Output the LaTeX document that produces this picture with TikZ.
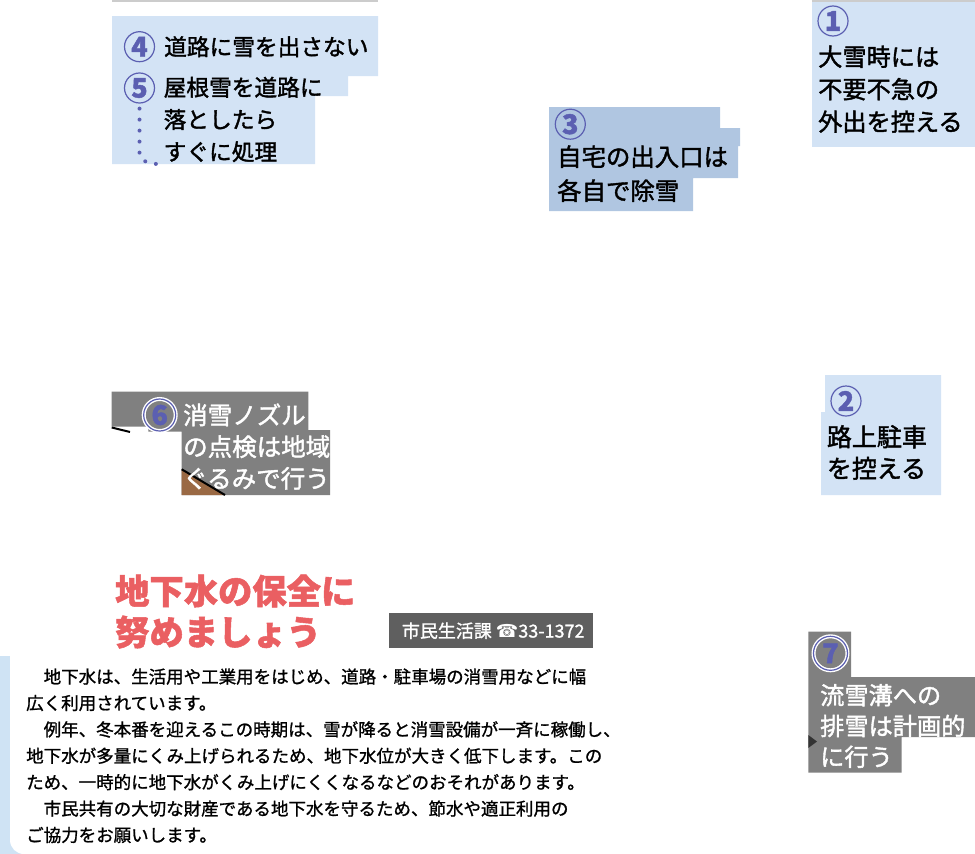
\documentclass[tikz,border=0pt]{standalone}
\usepackage{fontspec}
\setmainfont{Noto Sans CJK JP}
\newfontfamily\medjp[FakeBold=1.6]{Noto Sans CJK JP}
\newfontfamily\bodyjp[FakeBold=1.1]{Noto Sans CJK JP}
\newfontfamily\titlejp[BoldFeatures={FakeBold=1.5}]{Noto Sans CJK JP}
\newfontfamily\telsym{DejaVu Sans}
\definecolor{paleblue}{HTML}{D3E3F5}
\definecolor{midblue}{HTML}{B0C6E1}
\definecolor{boxgray}{HTML}{808080}
\definecolor{telgray}{HTML}{5F5F5F}
\definecolor{numblue}{HTML}{5B5FB1}
\definecolor{titlered}{HTML}{EA5F62}
\definecolor{roofbrown}{HTML}{9A6944}
\definecolor{edgegray}{HTML}{CCCCCC}
\definecolor{snowblue}{HTML}{CFE3F4}
\begin{document}
\begin{tikzpicture}[x=1pt, y=-1pt,
  callout/.style={inner sep=0pt, anchor=west, align=left, text=black},
  calloutw/.style={callout, text=white},
  numcirc/.style={circle, draw=numblue, line width=1.2pt, minimum size=30pt, inner sep=0pt,
    text=numblue, font=\titlejp\fontsize{27}{27}\selectfont\bfseries},
  numcircw/.style={numcirc, preaction={draw=white, line width=4pt}},
  leader/.style={numblue, line width=4pt, line cap=round, dash pattern=on 0pt off 11pt}]
      \useasboundingbox (0,0) rectangle (975,854);
      \fill[snowblue] (0,656) rectangle (30,854);
      \fill[white, rounded corners=14pt] (10,640) rectangle (975,854);
      \fill[paleblue] (112,16) -- (378,16) -- (378,76) -- (348,76) -- (348,96) -- (315,96) -- (315,164) -- (112,164) -- cycle;
      \fill[midblue] (549,107) -- (720,107) -- (720,128) -- (740,128) -- (740,146) -- (738,146) -- (738,178) -- (693,178) -- (693,211) -- (549,211) -- cycle;
      \fill[paleblue] (811.7,0) rectangle (975,146.7);
      \draw[edgegray, line width=1.5pt] (112,0.75) -- (378,0.75);
      \draw[edgegray, line width=1.5pt] (811.7,0.75) -- (975,0.75);
      \fill[paleblue] (825,375) -- (941,375) -- (941,495) -- (821,495) -- (821,412) -- (825,412) -- cycle;
      \fill[boxgray] (111.7,391.7) -- (308.3,391.7) -- (308.3,430) -- (330,430) -- (330,495) -- (181.7,495) -- (181.7,431.7) -- (148.3,431.7) -- (148.3,426.7) -- (111.7,426.7) -- cycle;
      \fill[roofbrown] (181.7,469.3) -- (225,495) -- (181.7,495) -- cycle;
      \draw[black, line width=2pt] (181.7,469.3) -- (225,495);
      \draw[black, line width=2pt] (111.7,427.5) -- (130,432);
      \fill[boxgray] (808.3,631.7) -- (851,631.7) -- (851,677) -- (975,677) -- (975,737) -- (901.7,737) -- (901.7,772.7) -- (808.3,772.7) -- cycle;
      \fill[black!80] (808.3,735) -- (817,741.5) -- (808.3,748) -- cycle;
      \fill[telgray] (389,613) rectangle (593,648);
      \node[numcirc] (n1) at (833,21) {1};
      \node[callout, font=\medjp\fontsize{24.2}{32.5}\selectfont] (t1) at (818,89.2) {大雪時には\\不要不急の\\外出を控える};
      \node[numcirc] (n2) at (846,401) {2};
      \node[callout, font=\medjp\fontsize{25}{31.6}\selectfont] (t2) at (826.7,452.5) {路上駐車\\を控える};
      \node[numcirc] (n3) at (570.3,124.2) {3};
      \node[callout, font=\medjp\fontsize{24.4}{34}\selectfont] (t3) at (557,173.7) {自宅の出入口は\\各自で除雪};
      \node[numcirc] (n4) at (139.5,46.7) {4};
      \node[callout, font=\medjp\fontsize{22.7}{22.7}\selectfont] (t4) at (164,46.7) {道路に雪を出さない};
      \node[numcirc] (n5) at (139.5,88) {5};
      \node[callout, font=\medjp\fontsize{22.7}{32.2}\selectfont] (t5) at (163.5,119.5) {屋根雪を道路に\\落としたら\\すぐに処理};
      \coordinate (dotend) at (158,164);
      \draw[leader] ([yshift=-5pt]n5.south) -- ++(0,44) to[out=-90, in=180] (dotend);
      \node[numcircw, minimum size=32pt] (n6) at (159.7,415) {6};
      \node[calloutw, font=\medjp\fontsize{24.5}{31.7}\selectfont] (t6) at (183,446.6) {消雪ノズル\\の点検は地域\\ぐるみで行う};
      \node[numcircw, minimum size=34pt] (n7) at (830.5,653.3) {7};
      \node[calloutw, font=\medjp\fontsize{24.2}{30.8}\selectfont] (t7) at (820,726) {流雪溝への\\排雪は計画的\\に行う};
      \node[callout, text=titlered, font=\titlejp\fontsize{34.3}{41}\selectfont\bfseries] (title) at (115,611.5) {地下水の保全に\\努めましょう};
      \node[calloutw, font=\bodyjp\fontsize{18}{18}\selectfont] (tel) at (401.7,630.7) {市民生活課 {\telsym ☎}33-1372};
      \node[callout, font=\bodyjp\fontsize{17.5}{26.4}\selectfont] (body) at (26,755.8) {　地下水は、生活用や工業用をはじめ、道路・駐車場の消雪用などに幅\\広く利用されています。\\　例年、冬本番を迎えるこの時期は、雪が降ると消雪設備が一斉に稼働し、\\地下水が多量にくみ上げられるため、地下水位が大きく低下します。この\\ため、一時的に地下水がくみ上げにくくなるなどのおそれがあります。\\　市民共有の大切な財産である地下水を守るため、節水や適正利用の\\ご協力をお願いします。};
    \end{tikzpicture}
\end{document}
